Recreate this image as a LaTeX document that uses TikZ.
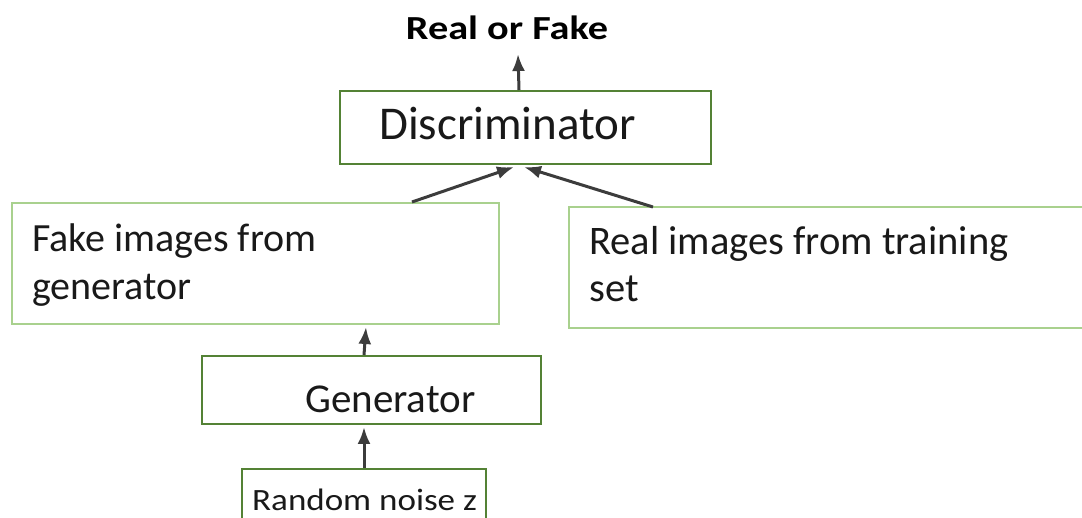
\documentclass[tikz,border=0pt]{standalone}
\usepackage{fontspec}
\setmainfont{Carlito}
\usetikzlibrary{arrows.meta}
\definecolor{dkgreen}{RGB}{84,130,53}
\definecolor{ltgreen}{RGB}{169,209,142}
\definecolor{arrgray}{RGB}{60,60,60}
\begin{document}
\begin{tikzpicture}[x=1pt,y=-1pt,
  darkbox/.style={draw=dkgreen,line width=2pt,rectangle,inner sep=0pt,anchor=north west},
  lightbox/.style={draw=ltgreen,line width=2pt,rectangle,inner sep=0pt,anchor=north west},
  txt/.style={anchor=base west,inner sep=0pt,text=black!90},
  arr/.style={-{Latex[length=17pt,width=13pt]},line width=3pt,draw=arrgray}]
\useasboundingbox (0,0) rectangle (1082,518);
\begin{scope}
\clip (0,0) rectangle (1082,518);
% boxes
\node[darkbox,minimum width=371pt,minimum height=73pt] (disc) at (339,90) {};
\node[lightbox,minimum width=487pt,minimum height=121pt] (fake) at (11,202) {};
\node[lightbox,minimum width=530pt,minimum height=121pt] (real) at (568,206) {};
\node[darkbox,minimum width=339pt,minimum height=68pt] (gen) at (201,355) {};
\node[darkbox,minimum width=244pt,minimum height=80pt] (noise) at (241,468) {};
% texts
\node[anchor=base,inner sep=0pt,text=black] (rf) at (507,40)
  {\scalebox{1.22}[1.02]{\fontsize{33}{40}\selectfont\bfseries Real or Fake}};
\node[txt] (tdisc) at (379,140) {\fontsize{47}{56}\selectfont Discriminator};
\node[txt] (tfake1) at (32,252) {\fontsize{40}{48}\selectfont Fake images from};
\node[txt] (tfake2) at (32,300) {\fontsize{40}{48}\selectfont generator};
\node[txt] (treal1) at (589,255) {\fontsize{40.5}{48}\selectfont Real images from training};
\node[txt] (treal2) at (589,302) {\fontsize{40.5}{48}\selectfont set};
\node[txt] (tgen) at (305,413) {\fontsize{41}{49}\selectfont Generator};
\node[txt] (tnoise) at (252,510) {\scalebox{1.13}[1]{\fontsize{31}{37}\selectfont Random noise z}};
% connectors
\coordinate (rftip) at (518,54);
\draw[arr] ([xshift=-6.5pt]disc.north) -- (rftip);
\draw[arr] ([xshift=-88pt]fake.north east) -- ([xshift=-11.5pt,yshift=-2pt]disc.south);
\draw[arr] ([xshift=85pt,yshift=-1pt]real.north west) -- ([xshift=-1.5pt,yshift=-2pt]disc.south);
\draw[arr] ([xshift=163pt]gen.north west) -- ([xshift=-134pt,yshift=-2pt]fake.south east);
\draw[arr] ([xshift=123pt]noise.north west) -- ([xshift=163pt,yshift=-2pt]gen.south west);
\end{scope}
\end{tikzpicture}
\end{document}
